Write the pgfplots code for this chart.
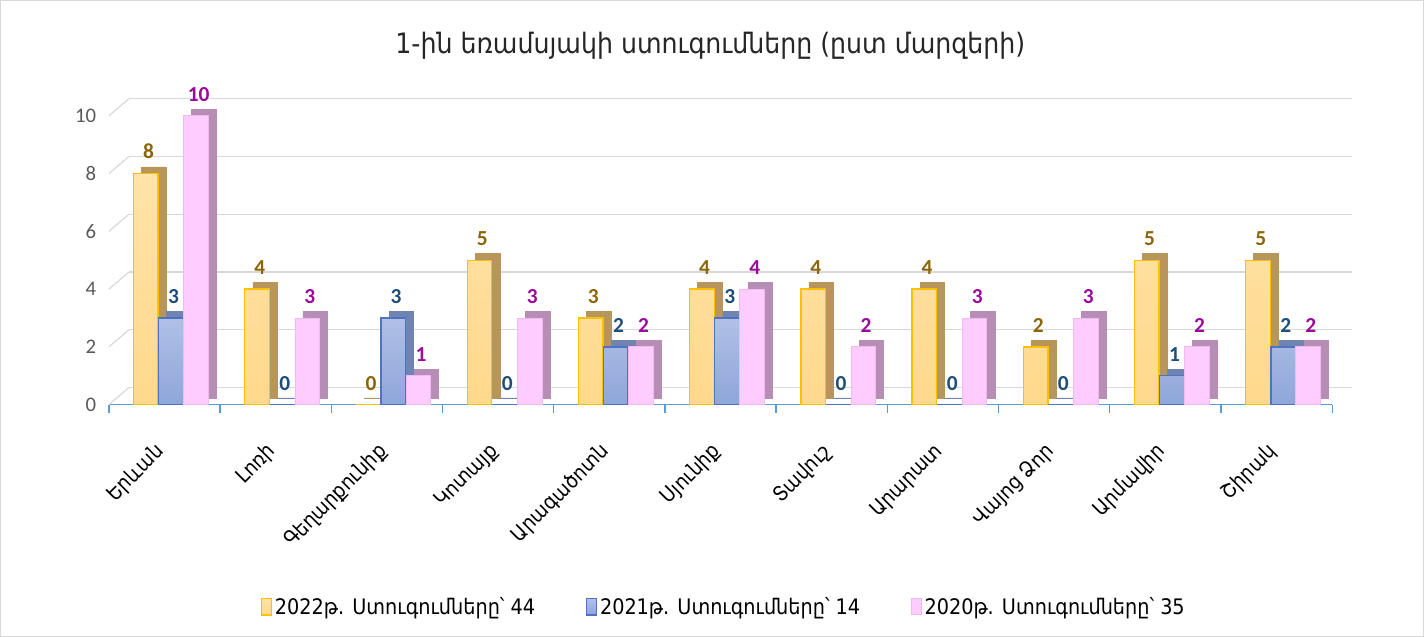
\documentclass[border=0pt]{standalone}
\usepackage{pgfplots}
\usepackage{pgfplotstable}
\pgfplotsset{compat=1.18}
\usepackage{fontspec}
\setmainfont{Carlito}
\newfontfamily\arm{DejaVu Sans Condensed}
\definecolor{orF}{HTML}{FFD98C}
\definecolor{orT}{HTML}{FFE3A8}
\definecolor{orE}{HTML}{FFC000}
\definecolor{orS}{HTML}{B8955A}
\definecolor{blF}{HTML}{8FA6DA}
\definecolor{blT}{HTML}{B0C0E6}
\definecolor{blE}{HTML}{4F73BE}
\definecolor{blS}{HTML}{6F84B3}
\definecolor{pkF}{HTML}{FFCCFF}
\definecolor{pkE}{HTML}{F2B8F2}
\definecolor{pkS}{HTML}{B58DB5}
\definecolor{orL}{HTML}{8B6508}
\definecolor{blL}{HTML}{1F4E79}
\definecolor{pkL}{HTML}{9C0A9C}
\definecolor{axB}{HTML}{5B9BD5}
\definecolor{grd}{HTML}{D9D9D9}
\definecolor{tk}{HTML}{595959}
\pgfplotstableread{
x y22 y21 y20
0 8 3 10
1 4 0 3
2 0 3 1
3 5 0 3
4 3 2 2
5 4 3 4
6 4 0 2
7 4 0 3
8 2 0 3
9 5 1 2
10 5 2 2
}\data
\begin{document}
\begin{tikzpicture}
\begin{axis}[
  at={(0,0)}, anchor=south west,
  scale only axis, width=915pt, height=216pt,
  xmin=-0.5, xmax=10.5, ymin=0, ymax=10,
  clip=false,
  ybar, bar width=18.4pt,
  axis lines*=left,
  x axis line style={draw=axB, line width=1pt, -},
  y axis line style={draw=none, -},
  ytick={0,2,...,10},
  ytick style={draw=none},
  yticklabel style={font=\fontsize{15.5}{15.5}\selectfont, text=tk},
  yticklabel shift=6pt,
  /pgf/number format/assume math mode=true,
  ymajorgrids, grid style={grd, line width=0.9pt, xshift=15pt, yshift=12.75pt},
  xtick={0,...,10},
  xtick style={draw=none},
  xticklabels={Երևան, Լոռի, Գեղարքունիք, Կոտայք, Արագածոտն, Սյունիք, Տավուշ, Արարատ, Վայոց Ձոր, Արմավիր, Շիրակ},
  xticklabel style={rotate=45, anchor=east, font=\arm\fontsize{15.5}{15.5}\selectfont, text=black},
  xticklabel shift=26pt,
  extra x ticks={-0.5,0.5,...,10.5},
  extra x tick labels={},
  extra x tick style={major tick length=6pt, tick align=outside, xtick style={draw=axB, line width=1pt}, grid=none},
  legend style={at={(0.503,-0.70)}, anchor=center, draw=none, legend columns=3,
    font=\arm\fontsize{16}{16}\selectfont,
    /tikz/every even column/.append style={column sep=36pt}},
  legend image code/.code={\draw[#1] (0pt,-6pt) rectangle (7.5pt,6pt);},
  every node near coord/.append style={font=\bfseries\fontsize{16}{16}\selectfont, yshift=7pt, xshift=2pt},
]
\foreach \v in {0,2,...,10} {
  \edef\tmp{\noexpand\draw[grd, line width=0.9pt] (axis cs:-0.5,\v) -- ++(15pt,12.75pt);}
  \tmp
}
% 2022
\addplot[forget plot, bar shift=-7.9pt, yshift=5pt, fill=orS, draw=orS] table[x=x,y=y22]{\data};
\addplot[bar shift=-13.9pt, top color=orT, bottom color=orF, draw=orE, line width=1pt,
  nodes near coords, nodes near coords style={text=orL}] table[x=x,y=y22]{\data};
\addlegendentry{2022թ.  Ստուգումները՝ 44}
% 2021
\addplot[forget plot, bar shift=10.9pt, yshift=5pt, fill=blS, draw=blS] table[x=x,y=y21]{\data};
\addplot[bar shift=4.9pt, top color=blT, bottom color=blF, draw=blE, line width=1pt,
  nodes near coords, nodes near coords style={text=blL}] table[x=x,y=y21]{\data};
\addlegendentry{2021թ. Ստուգումները՝ 14}
% 2020
\addplot[forget plot, bar shift=29.6pt, yshift=5pt, fill=pkS, draw=pkS] table[x=x,y=y20]{\data};
\addplot[bar shift=23.6pt, fill=pkF, draw=pkE, line width=0.6pt,
  nodes near coords, nodes near coords style={text=pkL}] table[x=x,y=y20]{\data};
\addlegendentry{2020թ. Ստուգումները՝ 35}
\end{axis}
\node[font=\arm\fontsize{21}{21}\selectfont, text=black!85] at (450pt,268.5pt) {1-ին եռամսյակի ստուգումները (ըստ մարզերի)};
\draw[grd, line width=0.8pt] (-81pt,-173.25pt) rectangle (983.25pt,302.25pt);
\end{tikzpicture}
\end{document}
